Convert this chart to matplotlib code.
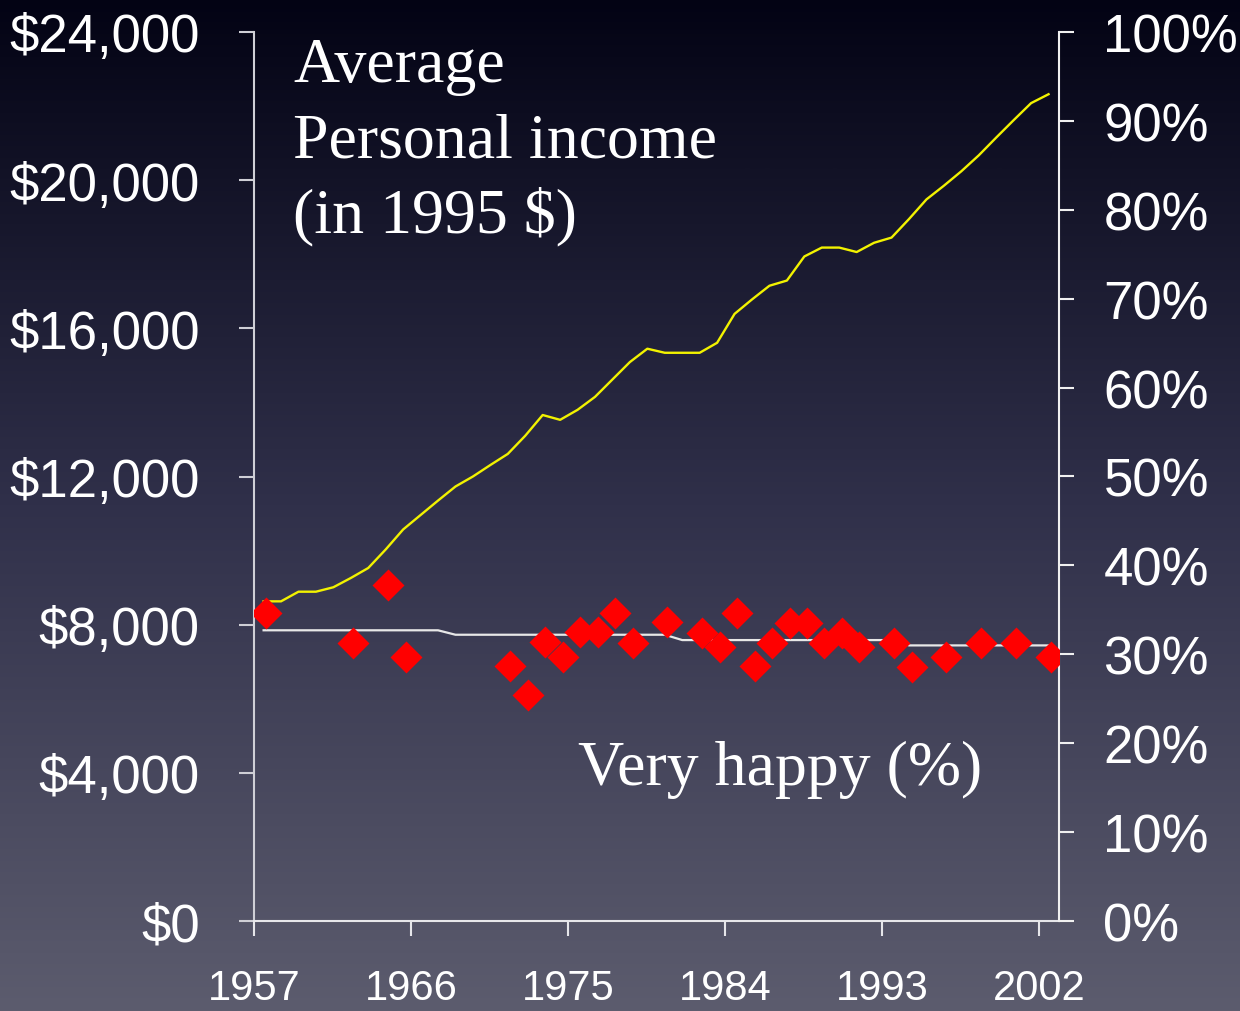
import numpy as np
import matplotlib
matplotlib.use('Agg')
import matplotlib.pyplot as plt

# average personal income (1995 $), one value per year 1957-2002
income_years = list(range(1957, 2003))
income = [8630, 8630, 8890, 8890, 9010, 9260, 9530, 10030, 10570, 10960,
          11350, 11730, 12000, 12310, 12610, 13100, 13660, 13530, 13800, 14150,
          14620, 15090, 15450, 15340, 15340, 15340, 15610, 16390, 16780, 17150,
          17290, 17940, 18180, 18180, 18060, 18310, 18450, 18950, 19480, 19850,
          20240, 20670, 21150, 21620, 22080, 22320]

# "very happy" survey results (%)
happy_years = [1957, 1962, 1964, 1965, 1971, 1972, 1973, 1974, 1975, 1976,
               1977, 1978, 1980, 1982, 1983, 1984, 1985, 1986, 1987, 1988,
               1989, 1990, 1991, 1993, 1994, 1996, 1998, 2000, 2002]
happy = [34.6, 31.3, 37.8, 29.7, 28.7, 25.4, 31.4, 29.7, 32.5, 32.5,
         34.6, 31.3, 33.6, 32.4, 30.8, 34.6, 28.7, 31.3, 33.5, 33.5,
         31.3, 32.4, 30.8, 31.3, 28.6, 29.7, 31.3, 31.3, 29.7]

# period averages of "very happy" (%)
trend = [32.7] * 11 + [32.2] * 13 + [31.6] * 13 + [31.0] * 9

tick_years = [1957, 1966, 1975, 1984, 1993, 2002]
left_ticks = [0, 4000, 8000, 12000, 16000, 20000, 24000]
left_labels = ['$0', '$4,000', '$8,000', '$12,000', '$16,000', '$20,000', '$24,000']
right_ticks = list(range(0, 101, 10))
right_labels = [f'{t}%' for t in right_ticks]

W, H = 1240, 1012
fig = plt.figure(figsize=(W / 100, H / 100), dpi=100)

# background gradient
bg = fig.add_axes([0, 0, 1, 1], zorder=-5)
stops_y = [0.0, 0.5, 1.0]
stops_c = np.array([[3, 3, 20], [48, 48, 74], [92, 92, 110]]) / 255
yy = np.linspace(0, 1, 400)
grad = np.stack([np.interp(yy, stops_y, stops_c[:, k]) for k in range(3)], axis=1)
bg.imshow(grad[:, None, :], aspect='auto', extent=[0, 1, 0, 1])
bg.set_axis_off()

ax = fig.add_axes([254 / W, 1 - 922 / H, (1059 - 254) / W, (922 - 33) / H])
ax.set_facecolor('none')
ax2 = ax.twinx()

off = 0.55
ax.plot(np.array(income_years) + off, income, color='#f2f200', lw=1.7, zorder=3)
ax.set_ylim(0, 24000)
ax.set_xlim(1957, 2003.15)
ax.set_xticks(tick_years)
ax.set_xticklabels([str(t) for t in tick_years])
ax.set_yticks(left_ticks)
ax.set_yticklabels(left_labels)

ax2.plot(np.array(income_years) + off, trend, color='#e8e8e8', lw=1.6, zorder=2)
ax2.plot(np.array(happy_years) + off + 0.15, happy, 'D', color='#ff0000', ms=16,
         mec='none', zorder=4)
ax2.set_ylim(0, 100)
ax2.set_yticks(right_ticks)
ax2.set_yticklabels(right_labels)

axis_col = '#cfcfd6'
for a in (ax, ax2):
    for s in a.spines.values():
        s.set_visible(False)
ax.spines['left'].set_visible(True)
ax.spines['bottom'].set_visible(True)
ax2.spines['right'].set_visible(True)
ax.spines['left'].set_color(axis_col)
ax.spines['bottom'].set_color('#e6e6ea')
ax2.spines['right'].set_color('#f0f0f0')
for s in (ax.spines['left'], ax.spines['bottom'], ax2.spines['right']):
    s.set_linewidth(1.5)

tick_font = 'Liberation Sans'
ax.tick_params(axis='y', direction='out', length=11, width=1.5, color=axis_col,
               labelcolor='white', labelsize=38, pad=28)
ax.tick_params(axis='x', direction='out', length=11, width=1.5, color='#e6e6ea',
               labelcolor='white', labelsize=30, pad=23)
ax2.tick_params(axis='y', direction='out', length=11, width=1.5, color='#f0f0f0',
                labelcolor='white', labelsize=38, pad=21)
for lab in ax.get_xticklabels() + ax.get_yticklabels() + ax2.get_yticklabels():
    lab.set_fontfamily(tick_font)

serif = 'Liberation Serif'
fig.text(293 / W, 1 - 82 / H, 'Average', color='white', fontsize=46,
         family=serif, va='baseline', ha='left')
fig.text(293 / W, 1 - 157 / H, 'Personal income', color='white', fontsize=46,
         family=serif, va='baseline', ha='left')
fig.text(293 / W, 1 - 232 / H, '(in 1995 $)', color='white', fontsize=46,
         family=serif, va='baseline', ha='left')
fig.text(578 / W, 1 - 785 / H, 'Very happy (%)', color='white', fontsize=46,
         family=serif, va='baseline', ha='left')

fig.savefig('out.png', dpi=100)
